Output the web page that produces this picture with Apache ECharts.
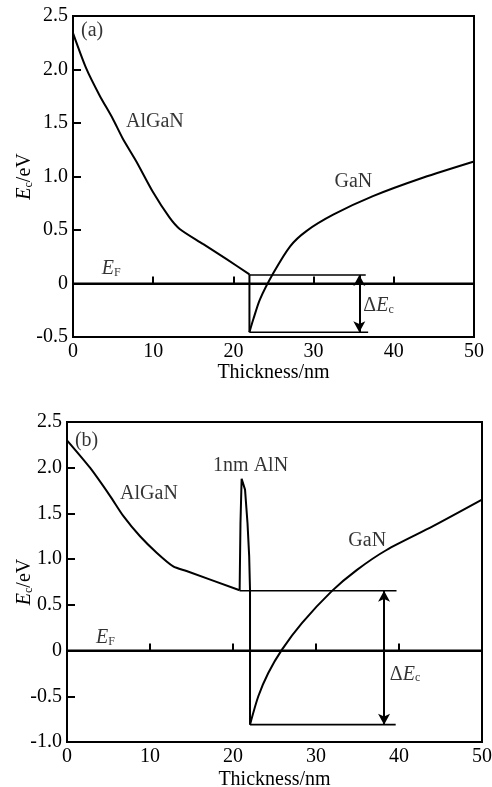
<!DOCTYPE html>
<html>
<head>
<meta charset="utf-8">
<script src="https://cdn.jsdelivr.net/npm/echarts@6/dist/echarts.min.js"></script>
<style>
html,body{margin:0;padding:0;background:#fff;}
#chart{width:492px;height:787px;}
</style>
</head>
<body>
<div id="chart"></div>
<script>
// ---------- data ----------
const xTicks = [0, 10, 20, 30, 40, 50];
const yTicksA = [-0.5, 0, 0.5, 1.0, 1.5, 2.0, 2.5];
const yLabelsA = ['-0.5', '0', '0.5', '1.0', '1.5', '2.0', '2.5'];
const yTicksB = [-1.0, -0.5, 0, 0.5, 1.0, 1.5, 2.0, 2.5];
const yLabelsB = ['-1.0', '-0.5', '0', '0.5', '1.0', '1.5', '2.0', '2.5'];

// panel (a)
const algaA = [[0,2.34],[1.65,2.01],[3.3,1.76],[4.96,1.54],[6.2,1.355],[7.9,1.14],[9.95,0.857],[12.0,0.62],[13.3,0.51],[16.2,0.37],[19.1,0.23],[22.0,0.085]];
const dropA = [[22.0,0.085],[22.0,-0.455]];
const ganA = [[22.0,-0.455],[22.5,-0.33],[23.3,-0.15],[25.0,0.10],[27.1,0.35],[29.1,0.49],[32.5,0.645],[37.4,0.816],[43.7,0.99],[50,1.14]];
const efA = [[0,0],[50,0]];
const topBarA = [[22.0,0.08],[36.5,0.08]];
const botBarA = [[22.0,-0.455],[36.8,-0.455]];
const arrowA = [[35.7,0.08],[35.7,-0.455]];

// panel (b)
const algaB = [[0,2.30],[2.77,2.0],[5.2,1.69],[6.8,1.47],[8.8,1.25],[10.8,1.07],[12.8,0.92],[14.4,0.87],[20.8,0.66]];
const spikeB = [[20.8,0.66],[20.9,1.39],[21.04,1.88],[21.45,1.76],[21.75,1.39],[21.95,1.03],[22.05,0.66],[22.05,-0.81]];
const ganB = [[22.05,-0.81],[23.05,-0.50],[24.25,-0.245],[25.9,0.01],[28.3,0.30],[31.9,0.65],[34.9,0.88],[38.5,1.10],[44.1,1.36],[50,1.65]];
const efB = [[0,0],[50,0]];
const topBarB = [[20.8,0.655],[39.7,0.655]];
const botBarB = [[22.05,-0.81],[39.6,-0.81]];
const arrowB = [[38.2,0.655],[38.2,-0.81]];

// annotations (text, anchor in data units: left edge, vertical middle)
const notesA = [
  {t:'{n|(a)}', p:[1.0,2.36]},
  {t:'{n|AlGaN}', p:[6.6,1.51]},
  {t:'{n|GaN}', p:[32.6,0.95]},
  {t:'{i|E}{s|F}', p:[3.6,0.14]},
  {t:'{n|Δ}{i|E}{s|c}', p:[36.2,-0.21]}
];
const notesB = [
  {t:'{n|(b)}', p:[0.95,2.29]},
  {t:'{n|1nm AlN}', p:[17.6,2.02]},
  {t:'{n|AlGaN}', p:[6.4,1.71]},
  {t:'{n|GaN}', p:[33.9,1.20]},
  {t:'{i|E}{s|F}', p:[3.5,0.14]},
  {t:'{n|Δ}{i|E}{s|c}', p:[38.9,-0.26]}
];

// ---------- styling ----------
const FONT = "'Liberation Serif','Times New Roman',serif";
const FS = 20;
const rich = {
  n: {fontFamily: FONT, fontSize: FS, color: '#000'},
  i: {fontFamily: FONT, fontSize: FS, fontStyle: 'italic', color: '#000'},
  s: {fontFamily: FONT, fontSize: 12, color: '#000', verticalAlign: 'bottom', padding: [8,0,0,0]}
};

const chart = echarts.init(document.getElementById('chart'), null, {renderer: 'canvas'});

function xAxisCfg(gi) {
  return {
    gridIndex: gi, type: 'value', min: 0, max: 50, interval: 10,
    name: 'Thickness/nm', nameLocation: 'middle', nameGap: gi === 0 ? 26 : 28,
    nameMoveOverlap: false,
    nameTextStyle: {fontFamily: FONT, fontSize: FS, color: '#000'},
    axisLine: {show: true, lineStyle: {color: '#000', width: 2}},
    axisTick: {show: true, inside: true, length: 7, lineStyle: {color: '#000', width: 2}},
    axisLabel: {fontFamily: FONT, fontSize: FS, color: '#000', margin: 5,
      formatter: v => String(xTicks[xTicks.indexOf(v)])},
    splitLine: {show: false}
  };
}
function yAxisCfg(gi, ticks, labels, min) {
  return {
    gridIndex: gi, type: 'value', min: min, max: 2.5, interval: 0.5,
    name: '{i|E}{s|c}{n|/eV}', nameLocation: 'middle', nameRotate: 90,
    nameGap: gi === 0 ? 38 : 32,
    nameMoveOverlap: false,
    nameTextStyle: {rich: rich},
    axisLine: {show: true, lineStyle: {color: '#000', width: 2}},
    axisTick: {show: true, inside: true, length: 8, lineStyle: {color: '#000', width: 2}},
    axisLabel: {fontFamily: FONT, fontSize: FS, color: '#000', margin: 5,
      formatter: v => { const k = ticks.findIndex(t => Math.abs(t - v) < 1e-6); return k >= 0 ? labels[k] : ''; }},
    splitLine: {show: false}
  };
}
function lineS(gi, data, w, smooth) {
  return {type: 'line', xAxisIndex: gi, yAxisIndex: gi, data: data, showSymbol: false, symbol: 'none',
    smooth: smooth ? 0.25 : false,
    lineStyle: {color: '#000', width: w}, silent: true, animation: false, z: 3};
}
function arrowS(gi, pts) {
  return {type: 'line', xAxisIndex: gi, yAxisIndex: gi, data: [], silent: true, animation: false,
    markLine: {silent: true, animation: false, symbol: ['arrow', 'arrow'], symbolSize: [9, 11],
      label: {show: false}, lineStyle: {color: '#000', width: 2, type: 'solid'},
      data: [[{coord: pts[0]}, {coord: pts[1]}]]}};
}
function notesS(gi, notes) {
  return {type: 'scatter', xAxisIndex: gi, yAxisIndex: gi, symbolSize: 0, silent: true, animation: false,
    data: notes.map(n => ({value: n.p, label: {formatter: n.t}})),
    label: {show: true, position: 'inside', align: 'left', verticalAlign: 'middle', rich: rich}, z: 5};
}

const option = {
  backgroundColor: '#fff',
  animation: false,
  grid: [
    {left: 73, top: 16, width: 401, height: 321, show: true, borderColor: '#000', borderWidth: 2,
      backgroundColor: 'transparent', outerBoundsMode: 'none', containLabel: false},
    {left: 67, top: 422, width: 415, height: 320, show: true, borderColor: '#000', borderWidth: 2,
      backgroundColor: 'transparent', outerBoundsMode: 'none', containLabel: false}
  ],
  xAxis: [xAxisCfg(0), xAxisCfg(1)],
  yAxis: [yAxisCfg(0, yTicksA, yLabelsA, -0.5), yAxisCfg(1, yTicksB, yLabelsB, -1.0)],
  series: [
    lineS(0, algaA, 2, true),
    lineS(0, dropA, 2, false),
    lineS(0, ganA, 2, true),
    lineS(0, efA, 2, false),
    lineS(0, topBarA, 1.6, false),
    lineS(0, botBarA, 1.6, false),
    arrowS(0, arrowA),
    notesS(0, notesA),
    lineS(1, algaB, 2, true),
    lineS(1, spikeB, 2, false),
    lineS(1, ganB, 2, true),
    lineS(1, efB, 2, false),
    lineS(1, topBarB, 1.6, false),
    lineS(1, botBarB, 1.6, false),
    arrowS(1, arrowB),
    notesS(1, notesB)
  ]
};
chart.setOption(option);
</script>
</body>
</html>
